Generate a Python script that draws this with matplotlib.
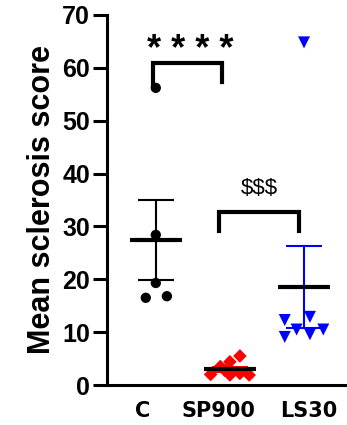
import numpy as np
import matplotlib.pyplot as plt

# datos
grupos = ['C', 'SP900', 'LS30']
c_vals = [56.2, 28.4, 19.3, 16.5, 16.8]
sp900_vals = [2.0, 3.5, 4.4, 5.5, 1.9, 2.2, 1.9, 2.8]
ls30_vals = [12.3, 12.9, 9.1, 10.5, 9.6, 10.5, 64.8]

# desplazamiento horizontal de cada punto (dispersion)
c_dx = [0, 0, 0, -0.135, 0.15]
sp900_dx = [-0.26, -0.13, 0, 0.135, 0, 0.135, 0.26, -0.07]
ls30_dx = [-0.26, 0.08, -0.26, -0.1, 0.08, 0.26, 0]

yticks = [0, 10, 20, 30, 40, 50, 60, 70]

datos = [c_vals, sp900_vals, ls30_vals]
despl = [c_dx, sp900_dx, ls30_dx]
colores = ['black', '#ff0000', '#0000ff']
marcas = ['o', 'D', 'v']
tams = [55, 48, 75]

fig = plt.figure(figsize=(3.47, 4.25), dpi=100)
ax = fig.add_axes([0.308, 0.094, 0.692, 0.871])

for i, (vals, dx) in enumerate(zip(datos, despl)):
    v = np.array(vals)
    media = v.mean()
    sem = v.std(ddof=1) / np.sqrt(len(v))
    ax.errorbar(i, media, yerr=sem, color=colores[i], lw=1.5, capsize=13,
                capthick=1.5, zorder=2)
    ax.scatter(i + np.array(dx), v, marker=marcas[i], s=tams[i],
               color=colores[i], edgecolors='none', zorder=3)
    ax.hlines(media, i - 0.35, i + 0.35, color='black', lw=3, zorder=4)

# corchetes de significancia
ax.plot([-0.04, -0.04, 0.89, 0.89], [56.7, 60.9, 60.9, 57.4], color='black',
        lw=3, solid_joinstyle='miter', zorder=1)
ax.text(0.46, 63.3, '* * * *', ha='center', va='center', fontsize=26,
        fontweight='bold', family='Liberation Sans')
ax.plot([0.85, 0.85, 1.93, 1.93], [29.2, 32.7, 32.7, 29.2], color='black',
        lw=3, solid_joinstyle='miter', zorder=1)
ax.text(1.4, 37.1, '$$$', ha='center', va='center', fontsize=16,
        family='Liberation Sans')

ax.set_xlim(-0.66, 2.58)
ax.set_ylim(0, 70)
ax.set_yticks(yticks)
ax.set_xticks(range(len(grupos)))
ax.set_xticklabels([])
# etiquetas del eje x a mano, en el original no estan bien centradas
for i, (g, dxp) in enumerate(zip(grupos, [-9.4, -8.6, 3.6])):
    ax.annotate(g, xy=(i, 0), xycoords=('data', 'axes fraction'),
                xytext=(dxp, -18.7), textcoords='offset points',
                ha='center', va='center', fontsize=15, fontweight='bold',
                family='DejaVu Sans', annotation_clip=False)
for lab in ax.get_yticklabels():
    lab.set_fontsize(18)
    lab.set_fontweight('bold')
    lab.set_family('Liberation Sans')
ax.tick_params(axis='y', length=10, width=2.2, pad=2)
ax.tick_params(axis='x', length=0)
ax.set_ylabel('Mean sclerosis score', fontsize=22, fontweight='bold',
              family='Liberation Sans', labelpad=4)

ax.spines['top'].set_visible(False)
ax.spines['right'].set_visible(False)
ax.spines['left'].set_linewidth(2.2)
ax.spines['bottom'].set_linewidth(2.2)

fig.savefig('out.png', dpi=100)
